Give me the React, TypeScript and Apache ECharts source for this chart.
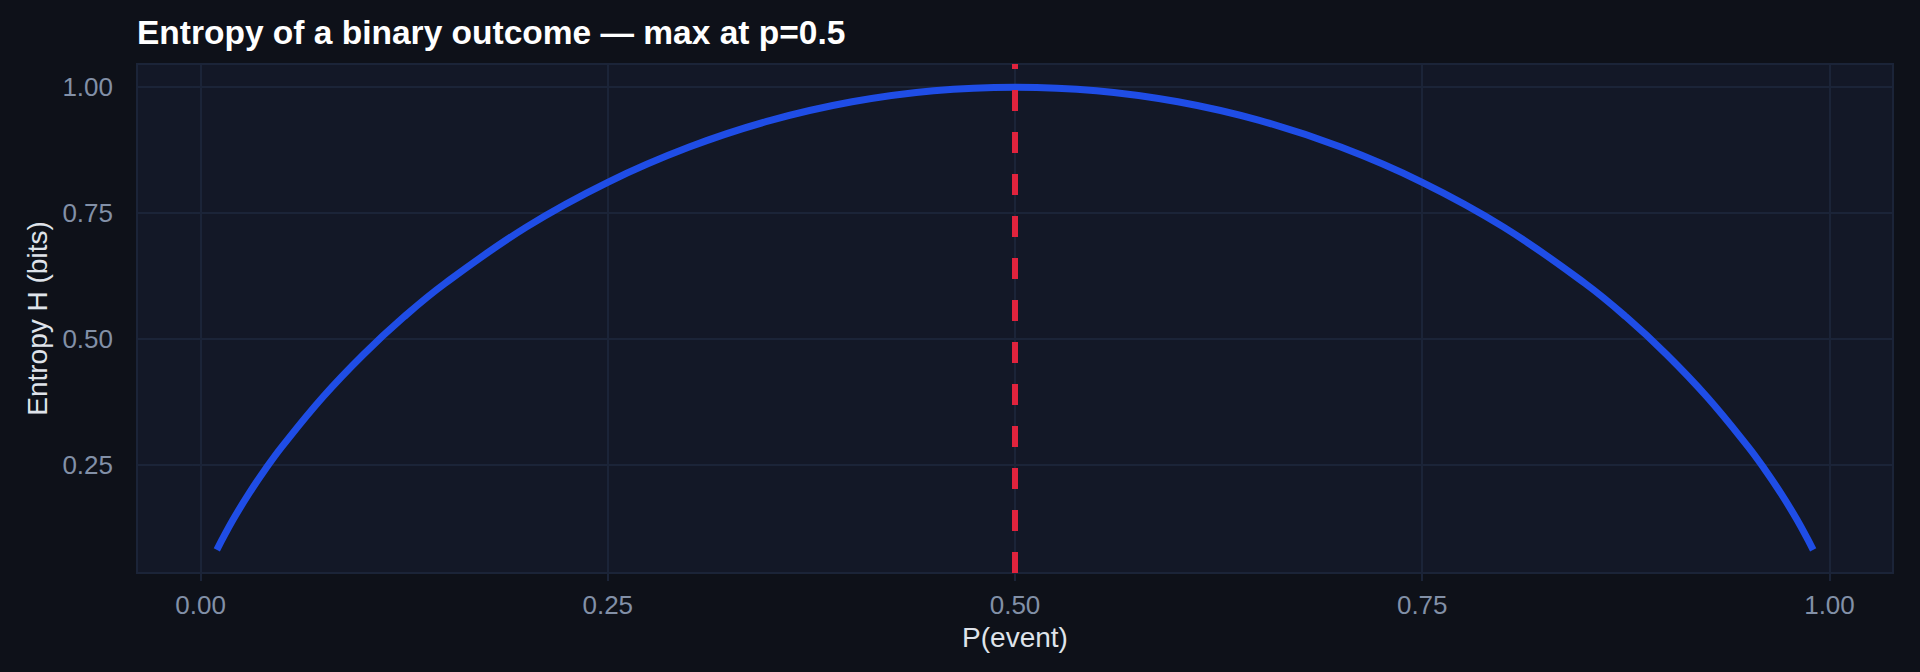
import React, { useEffect, useRef } from 'react';
import * as echarts from 'echarts';

// probability values and the entropy
const pValues = [
  0.01, 0.02, 0.03, 0.04, 0.05, 0.075, 0.1, 0.125, 0.15, 0.2, 0.25, 0.3, 0.35, 0.4, 0.45, 0.5,
  0.55, 0.6, 0.65, 0.7, 0.75, 0.8, 0.85, 0.875, 0.9, 0.925, 0.95, 0.96, 0.97, 0.98, 0.99,
];
const entropyValues = [
  0.081, 0.141, 0.194, 0.242, 0.286, 0.384, 0.469, 0.544, 0.61, 0.722, 0.811, 0.881, 0.934, 0.971, 0.993, 1.0,
  0.993, 0.971, 0.934, 0.881, 0.811, 0.722, 0.61, 0.544, 0.469, 0.384, 0.286, 0.242, 0.194, 0.141, 0.081,
];
const xTicks = [0, 0.25, 0.5, 0.75, 1];
const yTicks = [0.25, 0.5, 0.75, 1];
const peakP = 0.5;

const GRID = '#1b2438';
const TICK_TEXT = '#8290a7';
const FONT = 'Liberation Sans';

const App = () => {
  const chartRef = useRef<HTMLDivElement>(null);

  useEffect(() => {
    if (!chartRef.current) return;
    const chart = echarts.init(chartRef.current, null, { renderer: 'svg' });

    const option = {
      animation: false,
      backgroundColor: '#0e1119',
      title: {
        text: 'Entropy of a binary outcome — max at p=0.5',
        left: 132,
        top: 10,
        textStyle: { color: '#ffffff', fontSize: 33.5, fontWeight: 'bold', fontFamily: FONT },
      },
      grid: {
        left: 137,
        right: 27,
        top: 64,
        bottom: 99,
        show: true,
        backgroundColor: '#131827',
        borderColor: GRID,
        borderWidth: 2,
      },
      xAxis: {
        type: 'value',
        min: -0.039,
        max: 1.039,
        name: 'P(event)',
        nameLocation: 'middle',
        nameGap: 50,
        nameTextStyle: { color: '#dfe3ea', fontSize: 28, fontFamily: FONT },
        axisLine: { show: false },
        axisTick: { show: true, length: 8, customValues: xTicks, lineStyle: { color: GRID, width: 2 } },
        axisLabel: {
          customValues: xTicks,
          margin: 19,
          color: TICK_TEXT,
          fontSize: 26,
          fontFamily: FONT,
          formatter: (v: number) => v.toFixed(2),
        },
        splitLine: { show: true, lineStyle: { color: GRID, width: 2 } },
      },
      yAxis: {
        type: 'value',
        min: 0.0349,
        max: 1.046,
        name: 'Entropy H (bits)',
        nameLocation: 'middle',
        nameGap: 86,
        nameTextStyle: { color: '#dfe3ea', fontSize: 28, fontFamily: FONT },
        axisLine: { show: false },
        axisTick: { show: true, length: 8, customValues: yTicks, lineStyle: { color: GRID, width: 2 } },
        axisLabel: {
          customValues: yTicks,
          margin: 24,
          color: TICK_TEXT,
          fontSize: 26,
          fontFamily: FONT,
          formatter: (v: number) => v.toFixed(2),
        },
        splitLine: { show: true, lineStyle: { color: GRID, width: 2 } },
      },
      series: [
        {
          type: 'line',
          data: pValues.map((p, i) => [p, entropyValues[i]]),
          smooth: 0.4,
          symbol: 'none',
          lineStyle: { color: '#1f4de6', width: 7 },
          markLine: {
            silent: true,
            symbol: 'none',
            label: { show: false },
            lineStyle: { color: '#e0233d', width: 6, type: [21, 21] },
            data: [{ xAxis: peakP }],
          },
        },
      ],
    };

    chart.setOption(option as any);
    return () => chart.dispose();
  }, []);

  return (
    <div
      ref={chartRef}
      style={{ position: 'fixed', left: 0, top: 0, width: '1920px', height: '672px' }}
    />
  );
};

export default App;
